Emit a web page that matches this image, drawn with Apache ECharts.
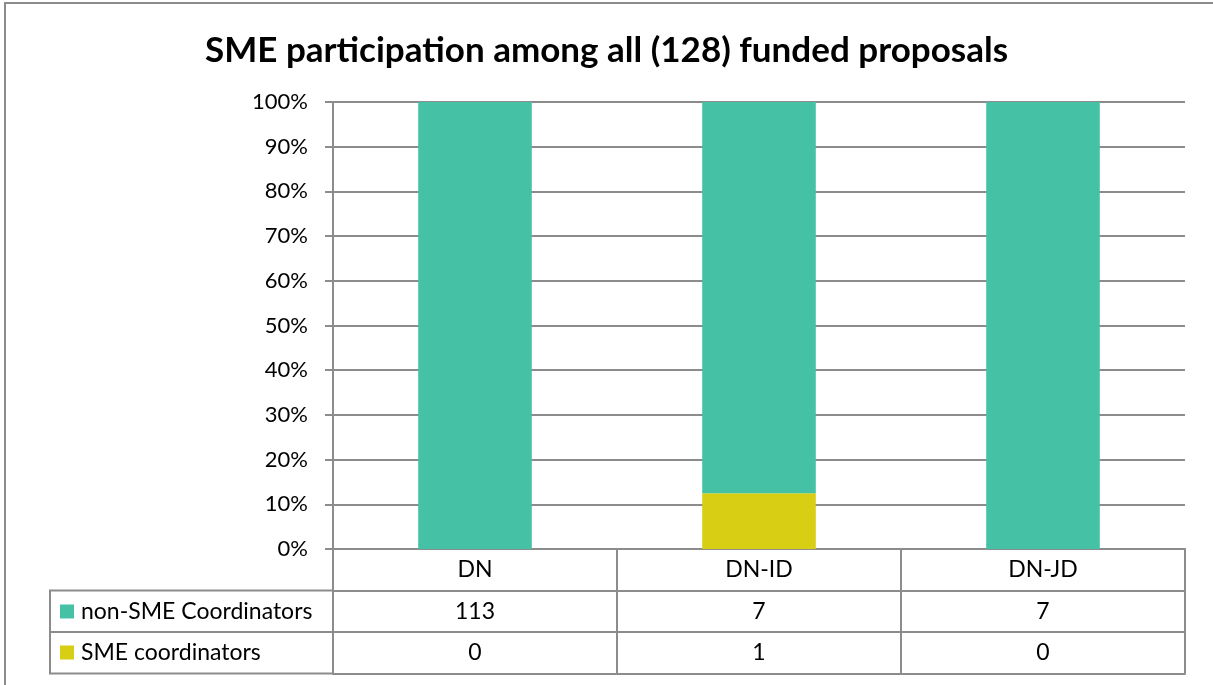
<!DOCTYPE html>
<html>
<head>
<meta charset="utf-8">
<script src="https://cdn.jsdelivr.net/npm/echarts@6/dist/echarts.min.js"></script>
<style>
  html, body { margin: 0; padding: 0; background: #fff; }
  #main { width: 1213px; height: 685px; }
</style>
</head>
<body>
<div id="main"></div>
<script>
// data
var categories = ['DN', 'DN-ID', 'DN-JD'];
var nonSme = [113, 7, 7];
var sme = [0, 1, 0];
var seriesNames = ['non-SME Coordinators', 'SME coordinators'];
var yTicks = [0, 10, 20, 30, 40, 50, 60, 70, 80, 90, 100];

var teal = '#45c2a5';
var yellow = '#d8ce14';
var lineCol = '#8c8c8c';
var font = 'Lato';
var txtSize = 23;

// percentages per category (100% stacked)
var totals = categories.map(function (c, i) { return nonSme[i] + sme[i]; });
var smePct = sme.map(function (v, i) { return v / totals[i] * 100; });
var nonSmePct = nonSme.map(function (v, i) { return v / totals[i] * 100; });

var chart = echarts.init(document.getElementById('main'));

// table rows are built from extra x axes under the grid
var rowH = 41.5;
function tableAxis(offset, formatter, showLabel) {
  return {
    type: 'category',
    data: categories,
    position: 'bottom',
    offset: offset,
    axisLine: { show: true, lineStyle: { color: lineCol, width: 2 } },
    axisTick: { show: true, length: showLabel ? rowH : 0, inside: false, lineStyle: { color: lineCol, width: 2 } },
    axisLabel: {
      show: showLabel,
      formatter: formatter,
      color: '#000',
      fontFamily: font,
      fontSize: txtSize,
      margin: 21,
      verticalAlign: 'middle'
    },
    splitLine: { show: false }
  };
}

var option = {
  animation: false,
  backgroundColor: '#fff',
  title: {
    text: 'SME participation among all (128) funded proposals',
    left: 'center',
    top: 28,
    textStyle: { fontFamily: font, fontSize: 35, fontWeight: 'bold', color: '#000' }
  },
  grid: { left: 333, right: 28, top: 102, bottom: 136 },
  legend: {
    orient: 'vertical',
    left: 60,
    top: 600,
    padding: 0,
    itemWidth: 14,
    itemHeight: 14,
    itemGap: 18,
    icon: 'rect',
    data: seriesNames,
    selectedMode: false,
    textStyle: { fontFamily: font, fontSize: txtSize, color: '#000', padding: [0, 0, 0, 2] }
  },
  xAxis: [
    tableAxis(0, function (v) { return v; }, true),
    tableAxis(rowH, function (v, i) { return String(nonSme[i]); }, true),
    tableAxis(rowH * 2, function (v, i) { return String(sme[i]); }, true),
    tableAxis(rowH * 3, function () { return ''; }, false)
  ],
  yAxis: {
    type: 'value',
    min: yTicks[0],
    max: yTicks[yTicks.length - 1],
    interval: 10,
    axisLine: { show: true, lineStyle: { color: lineCol, width: 2 } },
    axisTick: { show: true, length: 8, lineStyle: { color: lineCol, width: 2 } },
    axisLabel: { formatter: '{value}%', color: '#000', fontFamily: font, fontSize: 22, margin: 25 },
    splitLine: { show: true, lineStyle: { color: lineCol, width: 2 } }
  },
  series: [
    {
      name: seriesNames[1],
      type: 'bar',
      stack: 'all',
      data: smePct,
      barCategoryGap: '60%',
      itemStyle: { color: yellow }
    },
    {
      name: seriesNames[0],
      type: 'bar',
      stack: 'all',
      data: nonSmePct,
      barCategoryGap: '60%',
      itemStyle: { color: teal }
    }
  ],
  graphic: [
    // outer chart border
    { type: 'rect', shape: { x: 5, y: 3, width: 1260, height: 720 }, style: { fill: 'none', stroke: '#8c8c8c', lineWidth: 2 }, silent: true },
    // left part of the data table (legend keys)
    { type: 'polyline', shape: { points: [[333, 549 + rowH], [50, 549 + rowH], [50, 549 + rowH * 3], [333, 549 + rowH * 3]] }, style: { fill: 'none', stroke: lineCol, lineWidth: 2 }, silent: true },
    { type: 'line', shape: { x1: 50, y1: 549 + rowH * 2, x2: 333, y2: 549 + rowH * 2 }, style: { stroke: lineCol, lineWidth: 2 }, silent: true }
  ]
};

chart.setOption(option);
</script>
</body>
</html>
